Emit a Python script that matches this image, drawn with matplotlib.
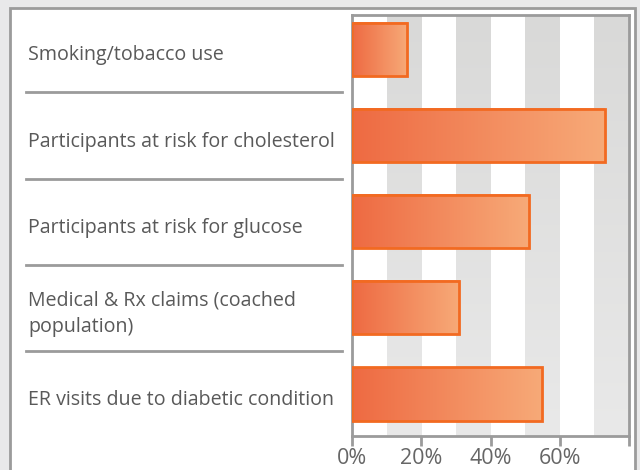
import numpy as np
import matplotlib
matplotlib.use("Agg")
import matplotlib.pyplot as plt
from matplotlib.patches import Rectangle
from matplotlib.colors import LinearSegmentedColormap
import matplotlib.transforms as mtransforms

categories = [
    "Smoking/tobacco use",
    "Participants at risk for cholesterol",
    "Participants at risk for glucose",
    "Medical & Rx claims (coached\npopulation)",
    "ER visits due to diabetic condition",
]
values = [16, 73, 51, 31, 55]
tick_values = [0, 20, 40, 60, 80]
tick_labels = ["0%", "20%", "40%", "60%", ""]
stripe_starts = [10, 30, 50, 70]
stripe_width = 10

W, H = 640, 470
fig = plt.figure(figsize=(6.4, 4.7), dpi=100)
fig.patch.set_facecolor("#e9e9ea")

# outer white panel
panel = Rectangle((10 / W, -0.05), (635 - 10) / W, (H - 8) / H + 0.05,
                  transform=fig.transFigure, facecolor="white",
                  edgecolor="#9b9b9b", linewidth=2.0, zorder=-5)
fig.patches.append(panel)

ax = fig.add_axes([352 / W, 1 - 436 / H, (629 - 352) / W, (436 - 15) / H])
ax.set_zorder(2)
ax.set_facecolor("white")
ax.set_xlim(0, 80)
ax.set_ylim(4.49, -0.4)

# stripes with slight vertical gradient
gray_cmap = LinearSegmentedColormap.from_list("g", ["#d9d9d8", "#e9e9e9"])
grad_v = np.linspace(0, 1, 256).reshape(-1, 1)
for s in stripe_starts:
    ax.imshow(grad_v, cmap=gray_cmap, aspect="auto",
              extent=(s, s + stripe_width, 4.49, -0.4), zorder=0.5,
              interpolation="bicubic")

# bars with horizontal gradient
bar_cmap = LinearSegmentedColormap.from_list("o", ["#ee6a42", "#f7aa78"])
grad_h = np.linspace(0, 1, 256).reshape(1, -1)
bh = 0.62
for i, v in enumerate(values):
    ax.imshow(grad_h, cmap=bar_cmap, aspect="auto",
              extent=(0, v, i + bh / 2, i - bh / 2), zorder=2,
              interpolation="bicubic")
    ax.barh(i, v, height=bh, facecolor="none", edgecolor="#f26a21",
            linewidth=2.0, zorder=3)

ax.set_xlim(0, 80)
ax.set_ylim(4.49, -0.4)

for sp in ax.spines.values():
    sp.set_color("#9b9b9b")
    sp.set_linewidth(2.0)

ax.set_yticks([])
ax.set_xticks(tick_values)
ax.set_xticklabels(tick_labels)
ax.tick_params(axis="x", length=7, width=2, color="#9b9b9b",
               labelcolor="#666666", labelsize=15.5, pad=2)
for lbl in ax.get_xticklabels():
    lbl.set_fontfamily("Open Sans")

# category labels and separators
trans = mtransforms.blended_transform_factory(fig.transFigure, ax.transData)
for i, c in enumerate(categories):
    ax.text(28 / W, i + 0.07, c, transform=trans, ha="left", va="center",
            fontsize=14.1, color="#595959", family="Open Sans",
            linespacing=1.4, clip_on=False)
for i in range(len(categories) - 1):
    ax.plot([26 / W, 342 / W], [i + 0.5, i + 0.5], transform=trans,
            color="#9b9b9b", linewidth=2.0, clip_on=False)

fig.savefig("out.png", dpi=100, facecolor=fig.get_facecolor())
